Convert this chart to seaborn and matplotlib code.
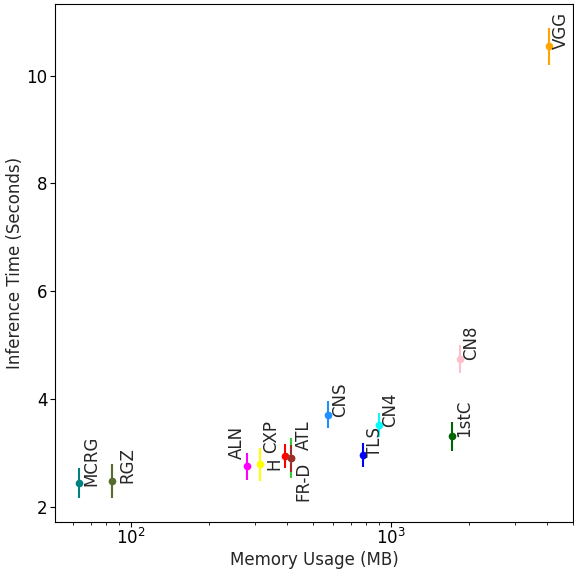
import matplotlib
matplotlib.use("Agg")
import matplotlib.pyplot as plt
import numpy as np
import pandas as pd
import seaborn as sns

# model names, memory (MB), inference time (s) and its spread
models = ["MCRG", "RGZ", "ALN", "H", "CXP", "FR-D", "ATL", "CNS", "TLS", "CN4", "1stC", "CN8", "VGG"]
memory = [63, 85, 281, 315, 392, 412, 413, 571, 782, 897, 1714, 1839, 4070]
inf_time = [2.44, 2.48, 2.75, 2.79, 2.94, 2.91, 2.90, 3.71, 2.96, 3.52, 3.31, 4.75, 10.54]
inf_err = [0.28, 0.32, 0.25, 0.31, 0.22, 0.37, 0.25, 0.25, 0.22, 0.23, 0.27, 0.26, 0.35]
colors = ["teal", "darkolivegreen", "magenta", "yellow", "red", "limegreen", "brown",
          "dodgerblue", "blue", "cyan", "darkgreen", "pink", "orange"]

# label placement (alignment + pixel offset from the point)
lab_ha = ["left", "left", "right", "left", "right", "left", "left", "left", "left", "left", "left", "left", "left"]
lab_va = ["bottom", "bottom", "bottom", "bottom", "bottom", "top", "bottom", "bottom", "bottom", "bottom", "bottom", "bottom", "bottom"]
lab_dx = [3.5, 5.5, -2, 5, -5, 3.5, 3.5, 3.5, 3.3, 2.5, 3.7, 2.7, 2.5]
lab_dy = [-2.5, -2.3, 7, -6, 3.5, -4, 8, -2.3, -2, -2.3, -1, -1.7, -2.5]

df = pd.DataFrame({"model": models, "memory": memory, "time": inf_time, "err": inf_err})

sns.set_style("ticks")
plt.rcParams["font.size"] = 12
plt.rcParams["xtick.labelsize"] = 12
plt.rcParams["ytick.labelsize"] = 12
plt.rcParams["axes.labelsize"] = 12
plt.rcParams["axes.edgecolor"] = "black"
plt.rcParams["xtick.color"] = "black"
plt.rcParams["ytick.color"] = "black"
plt.rcParams["xtick.major.pad"] = 1
plt.rcParams["ytick.major.pad"] = 2

fig, ax = plt.subplots(figsize=(5.74, 5.69), dpi=100)
fig.subplots_adjust(left=0.096, right=0.998, bottom=0.083, top=0.993)

for i, row in df.iterrows():
    ax.errorbar(row["memory"], row["time"], yerr=row["err"], fmt="o", color=colors[i],
                ms=4.5, elinewidth=1.5, capsize=0)
    ax.annotate(row["model"], (row["memory"], row["time"]), xytext=(lab_dx[i], lab_dy[i]),
                textcoords="offset pixels", rotation=90, ha=lab_ha[i], va=lab_va[i], fontsize=12)

ax.set_xscale("log")
ax.set_xlabel("Memory Usage (MB)", labelpad=2)
ax.set_ylabel("Inference Time (Seconds)", labelpad=1.5)
ax.set_yticks([2, 4, 6, 8, 10])

plt.savefig("out.png", dpi=100)
